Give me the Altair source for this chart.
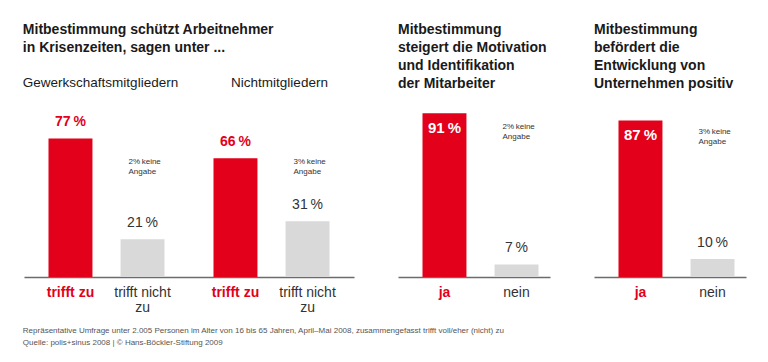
import altair as alt
import pandas as pd

FONT = "Liberation Sans"
RED = "#e2001a"
GRAY = "#d9d9d9"
DARK = "#1a1a1a"
TEXT_GRAY = "#333333"

# ---- data ----
p1_groups = ["Gewerkschaftsmitgliedern", "Nichtmitgliedern"]
p1_answers = ["trifft zu", "trifft nicht\nzu"]
p1_values = [[77, 21], [66, 31]]
p1_notes = ["2%\u2009keine\nAngabe", "3%\u2009keine\nAngabe"]

p2_answers = ["ja", "nein"]
p2_values = [91, 7]
p2_note = "2%\u2009keine\nAngabe"

p3_answers = ["ja", "nein"]
p3_values = [87, 10]
p3_note = "3%\u2009keine\nAngabe"

title1 = ["Mitbestimmung schützt Arbeitnehmer", "in Krisenzeiten, sagen unter ...", " "]
title2 = ["Mitbestimmung", "steigert die Motivation", "und Identifikation", "der Mitarbeiter"]
title3 = ["Mitbestimmung", "befördert die", "Entwicklung von", "Unternehmen positiv"]

footnote = [
    "Repräsentative Umfrage unter 2.005 Personen im Alter von 16 bis 65 Jahren, April–Mai 2008, zusammengefasst trifft voll/eher (nicht) zu",
    "Quelle: polis+sinus 2008 | © Hans-Böckler-Stiftung 2009",
]

H = 180
kinds = ["pos", "neg"]


def rows(groups, answers_per_group, values_per_group, notes_per_group):
    out = []
    for g, ans, vals, note in zip(groups, answers_per_group, values_per_group, notes_per_group):
        for k, a, v in zip(kinds, ans, vals):
            out.append({"group": g, "kind": k, "answer": a, "value": v,
                        "label": f"{v}\u2009%", "note": note})
    return pd.DataFrame(out)


def panel(df, groups, width, title, pi, po, inside, note_px, group_labels, toff):
    base = alt.Chart(df).encode(
        x=alt.X("group:N", sort=groups,
                scale=alt.Scale(paddingInner=0, paddingOuter=0),
                axis=alt.Axis(labels=False, ticks=False, title=None, grid=False,
                              domainColor="#6b6b6b", domainWidth=1.5)),
        xOffset=alt.XOffset("kind:N", sort=kinds,
                            scale=alt.Scale(paddingInner=pi, paddingOuter=po)),
    )
    yenc = alt.Y("value:Q", scale=alt.Scale(domain=[0, 100], nice=False), axis=None)
    bars = base.mark_bar().encode(
        y=yenc,
        color=alt.Color("kind:N", scale=alt.Scale(domain=kinds, range=[RED, GRAY]), legend=None),
    )
    pos = base.transform_filter("datum.kind == 'pos'")
    neg = base.transform_filter("datum.kind == 'neg'")
    if inside:
        pos_lab = pos.mark_text(font=FONT, fontSize=15, fontWeight="bold", color="white",
                                baseline="top", dy=8).encode(y=yenc, text="label:N")
    else:
        pos_lab = pos.mark_text(font=FONT, fontSize=14, fontWeight="bold", color=RED,
                                baseline="bottom", dy=-9).encode(y=yenc, text="label:N")
    neg_lab = neg.mark_text(font=FONT, fontSize=14, color=TEXT_GRAY,
                            baseline="bottom", dy=-9).encode(y=yenc, text="label:N")
    pos_cat = pos.mark_text(font=FONT, fontSize=14, fontWeight="bold", color=RED,
                            baseline="top", lineBreak="\n", lineHeight=15).encode(
        y=alt.value(H + 9), text="answer:N")
    neg_cat = neg.mark_text(font=FONT, fontSize=14, color=TEXT_GRAY,
                            baseline="top", lineBreak="\n", lineHeight=15).encode(
        y=alt.value(H + 9), text="answer:N")
    notes = neg.mark_text(font=FONT, fontSize=8, color=TEXT_GRAY, align="left",
                          baseline="top", dx=-14, lineBreak="\n", lineHeight=9.5).encode(
        y=alt.value(note_px), text="note:N")
    layers = [bars, pos_lab, neg_lab, pos_cat, neg_cat, notes]
    if group_labels:
        for g, shift in zip(groups, [-6, 8]):
            gl = alt.Chart(df).transform_filter(
                f"datum.kind == 'pos' && datum.group == '{g}'").mark_text(
                font=FONT, fontSize=13.5, color=DARK, baseline="middle", dx=shift).encode(
                x=alt.X("group:N", sort=groups), y=alt.value(-14), text="group:N")
            layers.append(gl)
    return alt.layer(*layers).properties(
        width=width, height=H,
        title=alt.TitleParams(text=title, anchor="start", font=FONT, fontSize=14,
                              fontWeight="bold", color=DARK, lineHeight=18, offset=toff),
    )


df1 = rows(p1_groups, [p1_answers, p1_answers], p1_values, p1_notes)
df2 = rows(["g"], [p2_answers], [p2_values], [p2_note])
df3 = rows(["g"], [p3_answers], [p3_values], [p3_note])

c1 = panel(df1, p1_groups, 330, title1, 0.39, 0.34, False, 61, True, 3)
c2 = panel(df2, ["g"], 152, title2, 0.397, 0.24, True, 26, False, 6)
c3 = panel(df3, ["g"], 152, title3, 0.397, 0.24, True, 31, False, 6)

chart = alt.hconcat(c1, c2, c3, spacing=44, bounds="flush").properties(
    title=alt.TitleParams(text=footnote, orient="bottom", anchor="start", font=FONT,
                          fontSize=8, fontWeight="normal", color="#555555",
                          lineHeight=12, offset=12),
    padding={"left": 14, "top": 15, "right": 8, "bottom": 2},
    background="white",
).configure_view(stroke=None)

chart.save("out.html", embed_options={"renderer": "svg", "actions": False})
